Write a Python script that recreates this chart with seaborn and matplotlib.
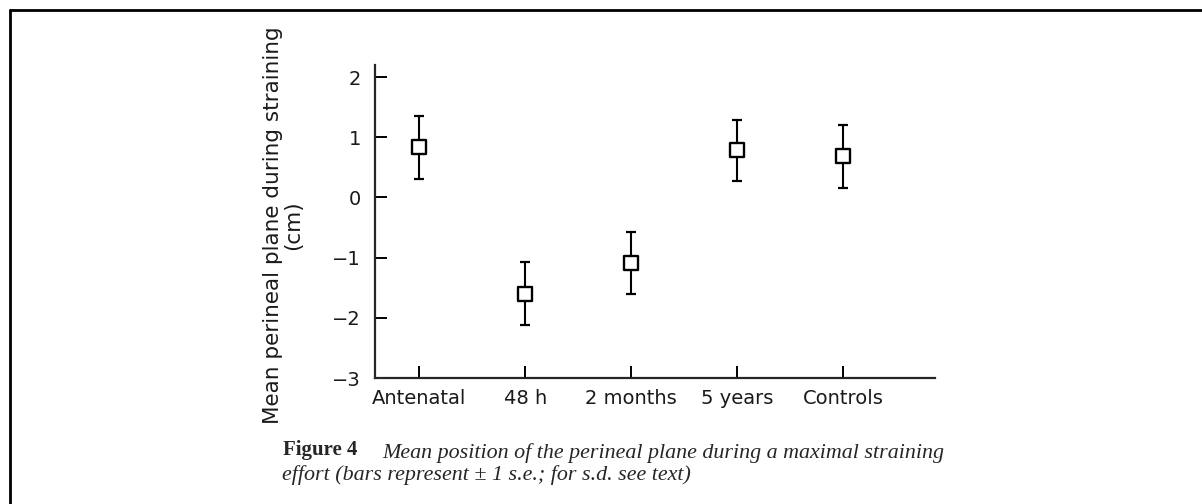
import matplotlib
matplotlib.use('Agg')
import matplotlib.pyplot as plt
import seaborn as sns
from matplotlib.lines import Line2D

# data (means and +/-1 s.e.)
groups = ['Antenatal', '48 h', '2 months', '5 years', 'Controls']
means = [0.83, -1.60, -1.09, 0.78, 0.68]
se = [0.52, 0.52, 0.52, 0.51, 0.53]
yticks = [-3, -2, -1, 0, 1, 2]

sns.set_style('ticks')
plt.rcParams['font.family'] = ['DejaVu Sans']

W, H = 1202, 504
fig = plt.figure(figsize=(W / 100, H / 100), dpi=100)
ax = fig.add_axes([375 / W, 1 - 378 / H, 560 / W, 313 / H])

ax.errorbar(groups, means, yerr=se, fmt='none', ecolor='black',
            elinewidth=1.5, capsize=3.8, capthick=1.6, zorder=2)
sns.scatterplot(x=groups, y=means, marker='s', s=110, color='white',
                edgecolor='black', linewidth=1.7, zorder=3, ax=ax, legend=False)

ax.set_xlim(-0.42, 4.87)
ax.set_ylim(-3, 2.2)
ax.set_yticks(yticks)
ax.set_yticklabels([str(v).replace('-', '\u2212') for v in yticks])
sns.despine(ax=ax)
for s in ['left', 'bottom']:
    ax.spines[s].set_linewidth(1.6)
ax.tick_params(axis='both', direction='in', length=8.5, width=1.4,
               labelsize=14, color='black', labelcolor='#1a1a1a')
ax.tick_params(axis='x', pad=8)
ax.tick_params(axis='y', pad=10)
ax.set_xlabel('')
ax.set_ylabel('')

# y axis title, two lines
fig.text(283 / W, 1 - 225 / H, 'Mean perineal plane during straining\n(cm)',
         rotation=90, ha='center', va='center', multialignment='center',
         fontsize=15.5, color='#1a1a1a', linespacing=1.0)

# caption
serif = ['Liberation Serif', 'DejaVu Serif']
fig.text(283 / W, 1 - 455 / H, 'Figure 4', family=serif, fontweight='bold',
         fontsize=15, va='baseline', ha='left')
fig.text(382 / W, 1 - 458 / H,
         'Mean position of the perineal plane during a maximal straining',
         family=serif, style='italic', fontsize=15.8, va='baseline', ha='left')
fig.text(282 / W, 1 - 480 / H,
         'effort (bars represent \u00b1 1 s.e.; for s.d. see text)',
         family=serif, style='italic', fontsize=15.8, va='baseline', ha='left')

# scan frame (top and left edges only)
fig.add_artist(Line2D([10 / W, 1], [1 - 9.5 / H, 1 - 9.5 / H],
                      transform=fig.transFigure, color='black', lw=2))
fig.add_artist(Line2D([10 / W, 10 / W], [0, 1 - 9.5 / H],
                      transform=fig.transFigure, color='black', lw=2))

fig.savefig('out.png', dpi=100)
